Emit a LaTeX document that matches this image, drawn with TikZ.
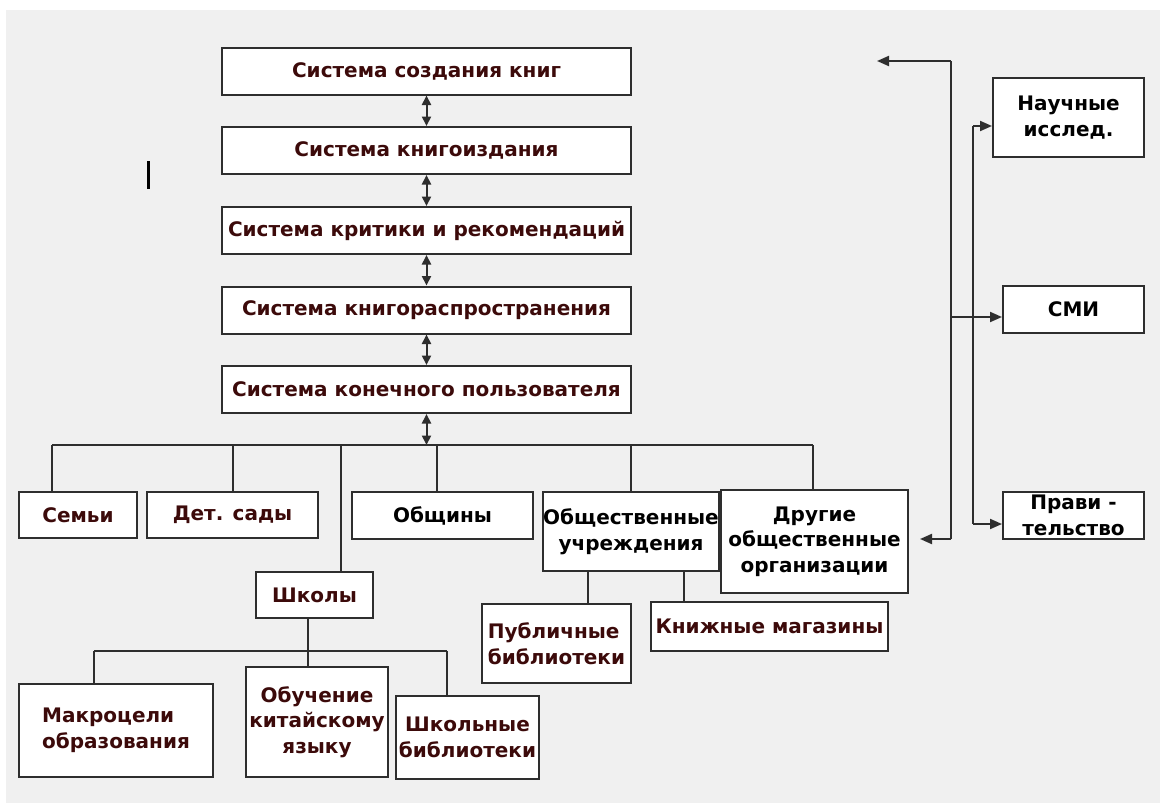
\documentclass[tikz,border=0pt]{standalone}
\usepackage{fontspec}
\setmainfont{DejaVu Sans}
\usetikzlibrary{arrows.meta}
\definecolor{bg}{HTML}{F0F0F0}
\definecolor{maroon}{HTML}{3C0A0A}
\definecolor{ln}{HTML}{2E2E2E}
\tikzset{
  box/.style={draw=ln, line width=2pt, fill=white, inner sep=0pt,
    font=\bfseries\fontsize{20}{25.5}\selectfont, align=center, text=maroon},
  blk/.style={text=black},
  conn/.style={draw=ln, line width=2pt},
  arr/.style={conn, -{Triangle[length=12pt,width=10pt]}},
  darr/.style={conn, {Triangle[length=9.5pt,width=9pt]}-{Triangle[length=9.5pt,width=9pt]}},
}
\begin{document}
\begin{tikzpicture}[x=1pt,y=-1pt]
\useasboundingbox (0,0) rectangle (1160,803);
\fill[white] (0,0) rectangle (1160,803);
\fill[bg] (6,10) rectangle (1160,803);

% chain
\node[box, minimum width=409pt, minimum height=47pt] (s1) at (426.5,71) {Система создания книг};
\node[box, minimum width=409pt, minimum height=47pt] (s2) at (426.5,150.5) {Система книгоиздания};
\node[box, minimum width=409pt, minimum height=47pt] (s3) at (426.5,230.5) {Система критики и рекомендаций};
\node[box, minimum width=409pt, minimum height=47pt] (s4) at (426.5,310) {Система книгораспространения};
\node[box, minimum width=409pt, minimum height=47pt] (s5) at (426.5,389.5) {Система конечного пользователя};

\draw[darr] (s1.south) -- (s2.north);
\draw[darr] (s2.south) -- (s3.north);
\draw[darr] (s3.south) -- (s4.north);
\draw[darr] (s4.south) -- (s5.north);

% level 2
\node[box, minimum width=118pt, minimum height=46pt] (semi) at (78,515) {Семьи};
\node[box, minimum width=171pt, minimum height=46pt] (det) at (232.5,515) {Дет. сады};
\node[box, blk, minimum width=181pt, minimum height=47pt] (obsh) at (442.5,515.5) {Общины};
\node[box, blk, minimum width=170pt, minimum height=79pt] (ou) at (631,531.5) {Общественные\\учреждения};
\node[box, blk, minimum width=187pt, minimum height=103pt] (dr) at (814.5,541.5) {Другие\\общественные\\организации};
\node[box, minimum width=117pt, minimum height=46pt] (shk) at (314.5,595) {Школы};

% level 3
\node[box, minimum width=194pt, minimum height=93pt, align=left] (mak) at (116,730.5) {Макроцели\\образования};
\node[box, minimum width=142pt, minimum height=110pt] (obu) at (317,722) {Обучение\\китайскому\\языку};
\node[box, minimum width=143pt, minimum height=83pt] (shb) at (467.5,737.5) {Школьные\\библиотеки};
\node[box, minimum width=149pt, minimum height=79pt, align=left] (pub) at (556.5,643.5) {Публичные\\библиотеки};
\node[box, minimum width=237pt, minimum height=49pt] (kn) at (769.5,626.5) {Книжные магазины};

% right side
\node[box, blk, minimum width=151pt, minimum height=79pt] (nau) at (1068.5,117.5) {Научные\\исслед.};
\node[box, blk, minimum width=141pt, minimum height=47pt] (smi) at (1073.5,309.5) {СМИ};
\node[box, blk, minimum width=141pt, minimum height=47pt] (prav) at (1073.5,515.5) {Прави -\\тельство};

% bus under chain
\coordinate (busL) at (52,445);
\coordinate (busR) at (813,445);
\coordinate (busC) at (426.5,445);
\draw[darr] (s5.south) -- (busC);
\draw[conn] (busL) -- (busR);
\draw[conn] (busL) -- (busL |- semi.north);
\coordinate (dDet) at (233,445);
\draw[conn] (dDet) -- (dDet |- det.north);
\coordinate (dShk) at (341,445);
\draw[conn] (dShk) -- (dShk |- shk.north);
\coordinate (dObsh) at (437,445);
\draw[conn] (dObsh) -- (dObsh |- obsh.north);
\draw[conn] (ou.north |- busL) -- (ou.north);
\draw[conn] (busR) -- (busR |- dr.north);

% schools bus
\coordinate (b2L) at (94,651);
\coordinate (b2R) at (447,651);
\coordinate (b2C) at (308,651);
\draw[conn] (b2C |- shk.south) -- (b2C);
\draw[conn] (b2L) -- (b2R);
\draw[conn] (b2L) -- (b2L |- mak.north);
\draw[conn] (b2C) -- (b2C |- obu.north);
\draw[conn] (b2R) -- (b2R |- shb.north);

% public institutions children
\coordinate (dPub) at (588,571);
\coordinate (dKn) at (684,571);
\draw[conn] (dPub) -- (dPub |- pub.north);
\draw[conn] (dKn) -- (dKn |- kn.north);

% right connectors
\coordinate (tipTop) at (877,61);
\coordinate (v1t) at (951,61);
\coordinate (v1b) at (951,539);
\coordinate (tipDr) at (920,539);
\coordinate (vm) at (951,317);
\draw[arr] (v1t) -- (tipTop);
\draw[conn] (v1t) -- (v1b);
\draw[arr] (v1b) -- (tipDr);
\draw[arr] (vm) -- (vm -| smi.west);
\coordinate (v2t) at (973,126);
\coordinate (v2b) at (973,524);
\draw[arr] (v2t) -- (v2t -| nau.west);
\draw[conn] (v2t) -- (v2b);
\draw[arr] (v2b) -- (v2b -| prav.west);

% stray bar
\draw[line width=3pt, black] (148,161) -- (148,189);
\end{tikzpicture}
\end{document}
